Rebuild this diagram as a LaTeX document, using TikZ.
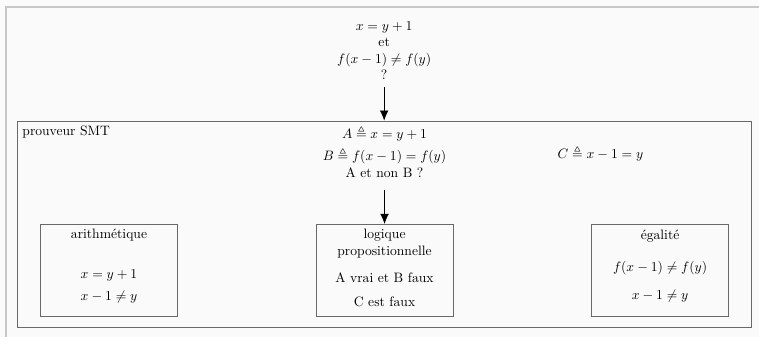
\documentclass[tikz,border=0pt]{standalone}
\usepackage{amsmath}
\usepackage{amssymb}
\usepackage{xcolor}
\usepackage{tikz}
\usetikzlibrary{arrows.meta, positioning}
\definecolor{mygray}{RGB}{105,105,105}
\definecolor{myframe}{RGB}{200,200,200}
\definecolor{mypaper}{RGB}{250,250,250}
\newcommand{\lowstrut}[1][8pt]{\rule[-#1]{0pt}{#1}}
\tikzset{
  theory/.style={rectangle, draw=mygray, align=center, minimum width=3.53cm,
    minimum height=2.37cm, inner sep=0pt, line width=0.5pt},
  prover/.style={rectangle, draw=mygray, minimum width=18.94cm, minimum height=5.32cm,
    line width=0.5pt},
  arrow/.style={-{Latex[length=2.6mm, width=2.2mm]}, thin, color=black, shorten <=2pt}
}
\begin{document}
\begin{tikzpicture}
\useasboundingbox (0,0) rectangle (19.58,-8.69);
\fill[mypaper] (0,0) rectangle (19.58,-8.69);
\draw[myframe, line width=0.8pt] (0.155,-8.69) |- (19.58,-0.18);
% solveur et ses theories
\node[prover] (smt) at (9.91,-5.78) {};
\node[anchor=north west, inner sep=4pt] (smtlbl) at (smt.north west) {prouveur SMT};
\node[theory] (logic) at (9.92,-6.97) {logique\\ propositionnelle\\[8pt] A vrai et B faux\\[6pt] C est faux\lowstrut[3pt]};
\node[theory, left=3.56cm of logic] (arith) {arithmétique\\[17.4pt] $x = y + 1$\\[4pt] $x - 1 \neq y$\lowstrut};
\node[theory, right=3.56cm of logic] (eq) {égalité\\[11.8pt] $f(x-1) \neq f(y)$\\[8.3pt] $x - 1 \neq y$\lowstrut};
% formules
\node[align=center, above=1.08cm of logic] (query) {$A \triangleq x = y + 1$\\[4.5pt] $B \triangleq f(x-1) = f(y)$\\ A et non B ?};
\node (cdef) at (15.49,-3.95) {$C \triangleq x - 1 = y$};
\node[align=center, above=0.94cm of smt] (goal) {$x = y + 1$\\ et\\ $f(x-1) \neq f(y)$\\ ?};
\draw[arrow] (goal) -- (smt);
\draw[arrow, shorten <=6pt] (query) -- (logic);
\end{tikzpicture}
\end{document}
